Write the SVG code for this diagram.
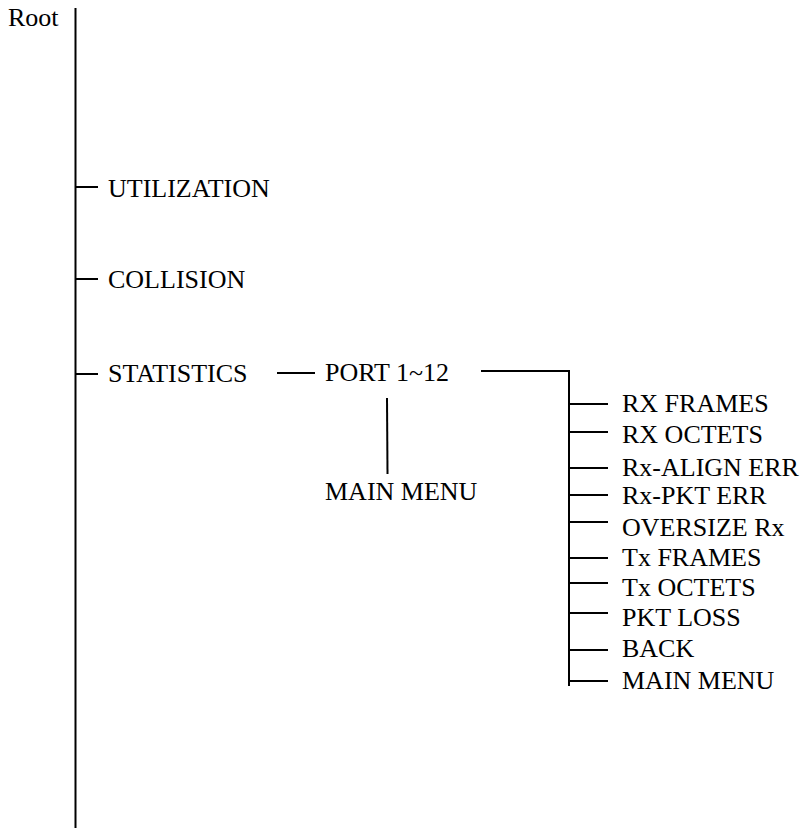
<svg xmlns="http://www.w3.org/2000/svg" width="806" height="830" viewBox="0 0 806 830">
<style>
text{font-family:"Liberation Serif","Times New Roman",serif;font-size:26px;fill:#000}
line{stroke:#000;stroke-width:2}
</style>
<rect width="806" height="830" fill="#fff"/>
<g id="connectors">
<line x1="75.5" y1="8" x2="75.5" y2="828"/>
<line x1="75" y1="187" x2="98" y2="187"/>
<line x1="75" y1="279" x2="98" y2="279"/>
<line x1="75" y1="374" x2="98" y2="374"/>
<line x1="277" y1="373" x2="315" y2="373"/>
<line x1="481" y1="371" x2="570" y2="371"/>
<line x1="387" y1="398" x2="387.5" y2="474"/>
<line x1="569" y1="370" x2="569" y2="686"/>
<line x1="569" y1="404" x2="608" y2="404"/>
<line x1="569" y1="432" x2="608" y2="432"/>
<line x1="569" y1="468" x2="608" y2="468"/>
<line x1="569" y1="495" x2="608" y2="495"/>
<line x1="569" y1="522" x2="608" y2="522"/>
<line x1="569" y1="558" x2="608" y2="558"/>
<line x1="569" y1="583" x2="608" y2="583"/>
<line x1="569" y1="613" x2="608" y2="613"/>
<line x1="569" y1="650" x2="608" y2="650"/>
<line x1="569" y1="681" x2="608" y2="681"/>
</g>
<g id="root"><text x="8" y="26">Root</text></g>
<g id="utilization"><text x="108" y="197">UTILIZATION</text></g>
<g id="collision"><text x="108" y="288">COLLISION</text></g>
<g id="statistics"><text x="108" y="382">STATISTICS</text></g>
<g id="port"><text x="325" y="381">PORT 1~12</text></g>
<g id="main-menu-1"><text x="325" y="500">MAIN MENU</text></g>
<g id="list">
<text x="622" y="412">RX FRAMES</text>
<text x="622" y="443">RX OCTETS</text>
<text x="622" y="476">Rx-ALIGN ERR</text>
<text x="622" y="504">Rx-PKT ERR</text>
<text x="622" y="536">OVERSIZE Rx</text>
<text x="622" y="566">Tx FRAMES</text>
<text x="622" y="596">Tx OCTETS</text>
<text x="622" y="626">PKT LOSS</text>
<text x="622" y="657">BACK</text>
<text x="622" y="689">MAIN MENU</text>
</g>
</svg>
